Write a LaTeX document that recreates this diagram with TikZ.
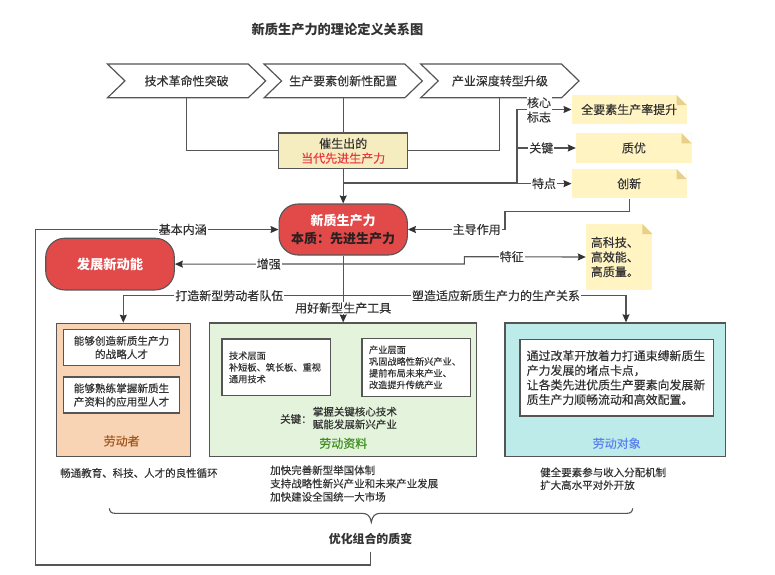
\documentclass[tikz,border=0pt]{standalone}
\usepackage{fontspec}
\setmainfont{Noto Sans CJK SC}
\newfontfamily\medfont[FakeBold=0.25]{Noto Sans CJK SC}
\usetikzlibrary{shapes.symbols,arrows.meta,calc}
\definecolor{ink}{HTML}{333333}
\definecolor{linec}{HTML}{555555}
\definecolor{notefill}{HTML}{FFF4C2}
\definecolor{notefold}{HTML}{E8D08A}
\definecolor{redfill}{HTML}{E24A4A}
\definecolor{cbfill}{HTML}{F5ECC0}
\definecolor{lfill}{HTML}{F8D3B4}
\definecolor{mfill}{HTML}{E4F3DC}
\definecolor{ofill}{HTML}{BDEBE9}
\newcommand{\fs}[2]{\fontsize{#1}{#2}\selectfont}
\tikzset{
  conn/.style={draw=linec,line width=1.1pt},
  arr/.style={conn,-{Stealth[length=8pt,width=7pt,inset=1pt,color=ink]}},
  chev/.style={shape=signal,signal to=east,signal from=west,signal pointer angle=88,draw=linec,line width=1.2pt,fill=white,minimum width=158.2pt,minimum height=33.7pt,inner sep=2pt,text=ink,font=\medfont\fs{12}{14}},
  pale/.style={draw=linec,line width=1.2pt,inner sep=0pt},
  notebox/.style={shape=rectangle,fill=notefill,inner sep=0pt,text=ink,font=\medfont\fs{12}{14.7},
    path picture={
      \fill[white] ($(path picture bounding box.north east)+(-10pt,0pt)$) -- (path picture bounding box.north east) -- ($(path picture bounding box.north east)+(0pt,-10pt)$) -- cycle;
      \fill[notefold] ($(path picture bounding box.north east)+(-10pt,0pt)$) -- ($(path picture bounding box.north east)+(-10pt,-10pt)$) -- ($(path picture bounding box.north east)+(0pt,-10pt)$) -- cycle;
    }},
  pill/.style={shape=rectangle,rounded corners=19pt,fill=redfill,draw=linec,line width=1.1pt,inner sep=0pt},
  lab/.style={fill=white,inner xsep=1pt,inner ysep=0.5pt,text=ink,font=\medfont\fs{12}{14}},
  inbox/.style={draw=linec,line width=1.2pt,fill=white,inner sep=7pt,text=ink},
  txt/.style={inner sep=0pt,text=ink,align=left},
  ttl/.style={inner sep=0pt,font=\medfont\fs{12}{14}},
}
\begin{document}
\begin{tikzpicture}[x=1pt,y=-1pt]
\useasboundingbox[fill=white] (0,0) rectangle (775,574);

\node[inner sep=0pt,text=ink,font=\bfseries\fs{13.2}{15}] (title) at (337.5,29.5) {新质生产力的理论定义关系图};

% chevrons
\node[chev] (c1) at (186.6,80.9) {技术革命性突破};
\node[chev] (c2) at (343.2,80.9) {生产要素创新性配置};
\node[chev] (c3) at (499.9,80.9) {产业深度转型升级};

% central boxes
\node[draw=linec,line width=1.2pt,fill=cbfill,minimum width=129.3pt,minimum height=35.7pt,inner sep=0pt,align=center,font=\medfont\fs{12}{14.7},text=ink] (cb) at (343.2,150.85) {催生出的\\\textcolor[HTML]{E8393F}{当代先进生产力}};
\node[pill,minimum width=128.3pt,minimum height=51pt,align=center,font=\bfseries\fs{13}{17.6},text=white] (red) at (343.2,229.5) {新质生产力\\\textcolor[HTML]{2B2020}{本质：先进生产力}};
\node[pill,minimum width=128.6pt,minimum height=51.7pt,font=\bfseries\fs{13.3}{16},text=white] (eng) at (110,264.1) {发展新动能};

% notes
\node[notebox,minimum width=115pt,minimum height=29pt] (n1) at (629.2,109.5) {全要素生产率提升};
\node[notebox,minimum width=115.7pt,minimum height=29.4pt] (n2) at (633.85,148) {质优};
\node[notebox,minimum width=115pt,minimum height=29.3pt] (n3) at (629.2,183.65) {创新};
\node[notebox,minimum width=66.3pt,minimum height=66pt,text width=56.6pt,align=left] (n4) at (619.15,257) {高科技、\\高效能、\\高质量。};

% containers
\node[pale,fill=lfill,minimum width=134pt,minimum height=133.2pt] (laborer) at (123.3,389.9) {};
\node[pale,fill=mfill,minimum width=267pt,minimum height=133.7pt] (means) at (343.2,389.85) {};
\node[pale,fill=ofill,minimum width=220.7pt,minimum height=133.7pt] (object) at (615.35,389.85) {};

% inner boxes
\node[inbox,minimum width=116.4pt,minimum height=35.6pt,inner sep=2pt,align=center,font=\medfont\fs{10.6}{13.4}] (a1) at (121.5,347.5) {能够创造新质生产力\\的战略人才};
\node[inbox,minimum width=116.4pt,minimum height=36pt,inner sep=2pt,align=center,font=\medfont\fs{10.6}{13.4}] (a2) at (121.5,395) {能够熟练掌握新质生\\产资料的应用型人才};
\node[inbox,minimum width=108.3pt,minimum height=56.7pt,text width=94.3pt,align=left,font=\medfont\fs{9.2}{11.7}] (b1) at (276.15,367.35) {技术层面\\补短板、筑长板、重视\\通用技术};
\node[inbox,minimum width=108.3pt,minimum height=56.7pt,text width=94.3pt,align=left,font=\medfont\fs{9.2}{11.7}] (b2) at (416.15,367.35) {产业层面\\巩固战略性新兴产业、\\提前布局未来产业、\\改造提升传统产业};
\node[inbox,minimum width=193.3pt,minimum height=76.7pt,inner sep=6.7pt,text width=179.9pt,align=left,font=\medfont\fs{11.9}{14.6}] (d1) at (616.65,377.65) {通过改革开放着力打通束缚新质生\\产力发展的堵点卡点，\\让各类先进优质生产要素向发展新\\质生产力顺畅流动和高效配置。};

% box titles and captions
\node[ttl,text={rgb,255:red,160;green,86;blue,26}] (t1) at (121.7,441) {劳动者};
\node[ttl,text={rgb,255:red,62;green,142;blue,30}] (t2) at (343.3,443.3) {劳动资料};
\node[ttl,text={rgb,255:red,91;green,130;blue,240}] (t3) at (616.7,443.3) {劳动对象};
\node[txt,anchor=west,font=\medfont\fs{10.5}{13}] (k0) at (280,419) {关键：};
\node[txt,anchor=west,font=\medfont\fs{10.5}{12.7}] (k1) at (312.7,418) {掌握关键核心技术\\赋能发展新兴产业};
\node[txt,anchor=west,font=\medfont\fs{10.5}{13}] (e1) at (60,473) {畅通教育、科技、人才的良性循环};
\node[txt,anchor=west,font=\medfont\fs{10.5}{13.3}] (e2) at (270,483.5) {加快完善新型举国体制\\支持战略性新兴产业和未来产业发展\\加快建设全国统一大市场};
\node[txt,anchor=west,font=\medfont\fs{10.5}{12.7}] (e3) at (540,478.7) {健全要素参与收入分配机制\\扩大高水平对外开放};
\node[inner sep=0pt,text=ink,font=\bfseries\fs{11.9}{14}] (opt) at (370.5,539) {优化组合的质变};

% brace
\draw[linec,line width=1.1pt] (109.3,508.3) .. controls (109.8,511.8) and (111.3,513.3) .. (115,513.3) -- (362,513.3) .. controls (367.5,513.3) and (370.3,516) .. (371.3,522.3) .. controls (372.3,516) and (375,513.3) .. (380.5,513.3) -- (627,513.3) .. controls (630.7,513.3) and (632.2,511.8) .. (632.7,508.3);

% connectors
\coordinate (bus) at (517,182.3);
\coordinate (tr1) at (505,211.7);
\coordinate (fz) at (464.3,256.7);
\coordinate (ly) at (343.2,264);
\coordinate (ls) at (343.2,295.7);
\coordinate (lp) at (35.3,565);
\coordinate (ob) at (370.5,551.7);
\coordinate (to) at (626,322.3);

\draw[conn] (c1.south) |- (cb.west);
\draw[conn] (c2.south) -- (cb.north);
\draw[conn] (c3.south) |- (cb.east);
\draw[arr] (cb.south) -- (red.north);
\draw[arr] (cb.south |- bus) -- (bus) |- (n1.west);
\draw[arr] (bus |- n2.west) -- (n2.west);
\draw[arr] (cb.south |- n3.west) -- (n3.west);
\draw[arr] (n3.south) |- (tr1) -- (tr1 |- red.east) -- (red.east);
\draw[arr] (ly) -- (eng.east);
\draw[arr] (ly) -| (fz) -- (n4.west);
\draw[arr] (ob) -- (ob |- lp) -- (lp) |- (red.west);
\draw[arr] (red.south) -- (means.north);
\draw[arr] (ls) -| (laborer.north);
\draw[arr] (ls) -| (to);

% labels on connectors
\node[lab,align=center,font=\medfont\fs{12}{14.5},inner xsep=0.5pt,inner ysep=0pt] (l1) at (539,109.8) {核心\\标志};
\node[lab] (l2) at (541.3,148) {关键};
\node[lab] (l3) at (544,183.5) {特点};
\node[lab] (l4) at (476.7,229.5) {主导作用};
\node[lab] (l5) at (511.7,256.7) {特征};
\node[lab] (l6) at (268.7,264) {增强};
\node[lab] (l7) at (182.7,229.5) {基本内涵};
\node[lab] (l8) at (229.3,295.7) {打造新型劳动者队伍};
\node[lab] (l9) at (496,295.7) {塑造适应新质生产力的生产关系};
\node[lab] (l10) at (343.2,308) {用好新型生产工具};
\end{tikzpicture}
\end{document}
